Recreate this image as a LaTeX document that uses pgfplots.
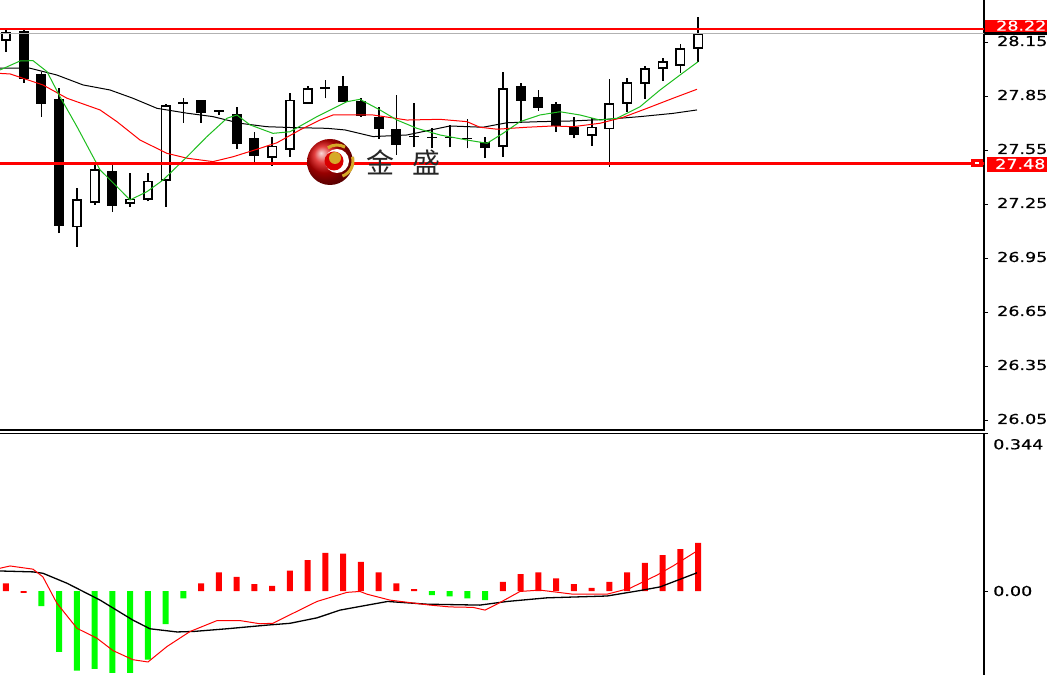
\documentclass[border=0pt]{standalone}
\usepackage{pgfplots}
\usepackage{pgfplotstable}
\pgfplotsset{compat=1.18}
\usepackage{fontspec}
\setmainfont{DejaVu Sans}
\newfontfamily\lblfont[FakeStretch=1.28,FakeBold=0.6]{DejaVu Sans}
\newfontfamily\cjk{Noto Sans CJK SC}
\newcommand\lbl{\lblfont\fontsize{13.7bp}{14bp}\selectfont}
\definecolor{magreen}{RGB}{30,190,30}
\definecolor{hgreen}{RGB}{0,255,0}
\definecolor{gold}{RGB}{214,170,40}
% candles: index, open, high, low, close
\pgfplotstableread{
i o h l c
0 28.167 28.222 28.102 28.204
1 28.213 28.222 27.930 27.954
2 27.972 27.990 27.740 27.818
3 27.833 27.898 27.094 27.139
4 27.130 27.343 27.018 27.278
5 27.265 27.472 27.250 27.444
6 27.435 27.472 27.213 27.250
7 27.260 27.426 27.240 27.280
8 27.282 27.426 27.270 27.380
9 27.389 27.810 27.240 27.800
10 27.815 27.845 27.707 27.820
11 27.830 27.832 27.707 27.765
12 27.772 27.775 27.750 27.772
13 27.750 27.796 27.560 27.593
14 27.615 27.657 27.491 27.528
15 27.518 27.630 27.467 27.574
16 27.561 27.870 27.518 27.830
17 27.818 27.910 27.818 27.893
18 27.898 27.945 27.843 27.900
19 27.907 27.967 27.820 27.824
20 27.824 27.843 27.740 27.750
21 27.732 27.796 27.617 27.676
22 27.667 27.861 27.528 27.589
23 27.630 27.815 27.570 27.630
24 27.626 27.676 27.565 27.626
25 27.626 27.694 27.570 27.626
26 27.620 27.728 27.565 27.620
27 27.596 27.630 27.510 27.570
28 27.578 27.990 27.518 27.893
29 27.907 27.930 27.713 27.833
30 27.848 27.889 27.774 27.796
31 27.806 27.824 27.657 27.694
32 27.681 27.737 27.620 27.644
33 27.639 27.732 27.578 27.681
34 27.676 27.948 27.463 27.811
35 27.817 27.957 27.768 27.928
36 27.928 28.022 27.839 28.006
37 28.010 28.065 27.939 28.046
38 28.028 28.143 27.985 28.117
39 28.121 28.296 28.046 28.200
}\candles
\begin{document}
\begin{tikzpicture}
\useasboundingbox (0bp,0bp) rectangle (1047bp,675bp);
\fill[white] (0bp,0bp) rectangle (1047bp,675bp);
% ---------------- price panel ----------------
\begin{axis}[
  at={(-3bp,245bp)}, anchor=south west,
  scale only axis, width=987bp, height=433bp,
  xmin=-0.507, xmax=55.1, ymin=26.0, ymax=28.4056,
  xtick=\empty,
  ytick={26.05,26.35,26.65,26.95,27.25,27.55,27.85,28.15},
  yticklabels={26.05,26.35,26.65,26.95,27.25,27.55,27.85,28.15},
  ytick pos=right, yticklabel pos=right,
  tick align=outside, major tick length=4bp,
  tick style={black, line width=1bp},
  yticklabel style={font=\lbl, anchor=west, inner sep=0pt, xshift=9bp, yshift=2bp},
  axis line style={black, line width=1.5bp},
]
% wicks
\addplot[draw=none, mark=none, error bars/.cd, y dir=plus, y explicit,
  error mark=none, error bar style={draw=black, line width=1.6bp}]
  table[x=i, y=l, y error plus expr={\thisrow{h}-\thisrow{l}}] {\candles};
% bodies (black, including outline of white bodies)
\addplot[draw=none, mark=none, error bars/.cd, y dir=plus, y explicit,
  error mark=none, error bar style={draw=black, line width=10bp}]
  table[x=i, y expr={min(\thisrow{o},\thisrow{c})-0.0045},
        y error plus expr={abs(\thisrow{c}-\thisrow{o})+0.009}] {\candles};
% white interior of rising bodies
\addplot[draw=none, mark=none, error bars/.cd, y dir=plus, y explicit,
  error mark=none, error bar style={draw=white, line width=6.8bp}]
  table[x=i, y expr={\thisrow{o}+0.0045},
        y error plus expr={max(\thisrow{c}-\thisrow{o}-0.009,0)}] {\candles};
% moving averages
\addplot[black, line width=1bp] coordinates {(-0.51,28.010) (1.35,28.010) (2.87,27.972) (4.34,27.917) (5.86,27.889) (7.15,27.843) (8.51,27.787) (10.20,27.760) (11.66,27.741) (13.18,27.704) (14.70,27.685) (16.17,27.680) (18.08,27.676) (19.10,27.667) (20.68,27.630) (22.59,27.639) (25.01,27.689) (26.87,27.682) (28.23,27.707) (30.08,27.713) (31.94,27.717) (33.86,27.726) (35.72,27.741) (37.58,27.759) (38.93,27.778)};
\addplot[red, line width=1bp] coordinates {(-0.51,27.982) (0.23,27.978) (2.08,27.917) (3.44,27.843) (5.30,27.778) (6.25,27.713) (7.55,27.611) (9.07,27.537) (10.20,27.510) (11.66,27.491) (12.79,27.518) (14.31,27.565) (15.27,27.596) (16.56,27.667) (17.69,27.722) (18.42,27.750) (20.68,27.750) (22.59,27.722) (24.45,27.726) (25.97,27.713) (26.70,27.682) (27.66,27.671) (29.35,27.682) (30.82,27.689) (31.94,27.685) (33.46,27.704) (34.76,27.737) (36.11,27.787) (37.58,27.843) (38.93,27.893)};
\addplot[magreen, line width=1bp] coordinates {(-0.51,28.000) (-0.34,28.000) (0.79,28.050) (1.52,28.052) (2.31,27.991) (3.04,27.852) (4.0,27.685) (5.30,27.445) (6.25,27.352) (6.99,27.278) (7.94,27.324) (8.85,27.389) (10.20,27.518) (11.32,27.630) (12.45,27.732) (13.01,27.750) (13.75,27.695) (15.04,27.648) (16.0,27.657) (17.52,27.741) (19.21,27.824) (19.94,27.837) (21.07,27.778) (22.03,27.722) (23.15,27.676) (24.45,27.639) (25.97,27.611) (27.10,27.593) (28.0,27.648) (28.96,27.713) (30.08,27.750) (31.21,27.768) (32.34,27.750) (33.46,27.722) (34.42,27.732) (35.72,27.796) (36.85,27.889) (37.97,27.972) (38.99,28.046)};
% horizontal lines
\addplot[black!30, line width=1bp] coordinates {(-1,28.204) (56,28.204)};
\addplot[red, line width=2.3bp] coordinates {(-1,28.226) (56,28.226)};
\addplot[red, line width=2.3bp] coordinates {(-1,27.4806) (56,27.4806)};
\end{axis}
% ---------------- MACD panel ----------------
\begin{axis}[
  at={(-3bp,-3bp)}, anchor=south west,
  scale only axis, width=987bp, height=244.7bp,
  xmin=-0.507, xmax=55.1, ymin=-0.1912, ymax=0.3466,
  xtick=\empty,
  ytick={0}, yticklabels={0.00},
  extra y ticks={0.3466}, extra y tick labels={0.344},
  extra y tick style={yticklabel style={yshift=-11bp}},
  ytick pos=right, yticklabel pos=right,
  tick align=outside, major tick length=4bp,
  tick style={black, line width=1bp},
  yticklabel style={font=\lbl, anchor=west, inner sep=0pt, xshift=5bp},
  axis line style={black, line width=1.5bp},
]
\addplot[ybar, bar width=6bp, bar shift=0pt, fill=red, draw=none] coordinates {(0,0.017) (1,-0.004) (11,0.017) (12,0.041) (13,0.031) (14,0.015) (15,0.011) (16,0.045) (17,0.068) (18,0.084) (19,0.082) (20,0.064) (21,0.041) (22,0.017) (23,0.004) (28,0.020) (29,0.037) (30,0.041) (31,0.028) (32,0.015) (33,0.007) (34,0.020) (35,0.041) (36,0.062) (37,0.079) (38,0.092) (39,0.106)};
\addplot[ybar, bar width=6bp, bar shift=0pt, fill=hgreen, draw=none] coordinates {(2,-0.033) (3,-0.134) (4,-0.175) (5,-0.171) (6,-0.180) (7,-0.180) (8,-0.151) (9,-0.073) (10,-0.016) (24,-0.009) (25,-0.012) (26,-0.016) (27,-0.020)};
\addplot[black, line width=1.3bp] coordinates {(-0.51,0.044) (-0.34,0.044) (1.52,0.042) (2.08,0.039) (3.44,0.017) (5.30,-0.020) (7.15,-0.064) (8.11,-0.083) (9.63,-0.090) (10.54,-0.089) (12.45,-0.083) (14.70,-0.075) (16.0,-0.071) (17.52,-0.059) (18.82,-0.042) (19.94,-0.034) (21.5,-0.023) (23.72,-0.029) (26.70,-0.031) (28.23,-0.023) (30.48,-0.015) (33.86,-0.011) (35.72,0.001) (36.85,0.009) (38.93,0.040)};
\addplot[red, line width=1bp] coordinates {(-0.51,0.050) (-0.34,0.050) (0.23,0.055) (1.52,0.048) (2.08,0.031) (2.87,-0.027) (4.0,-0.082) (5.13,-0.104) (6.03,-0.131) (7.15,-0.151) (8.0,-0.156) (9.07,-0.122) (10.37,-0.089) (11.89,-0.065) (13.18,-0.065) (14.31,-0.072) (15.04,-0.071) (16.17,-0.049) (17.52,-0.023) (19.21,-0.003) (19.94,-0.001) (20.34,-0.007) (21.63,-0.020) (23.89,-0.031) (25.01,-0.035) (26.31,-0.036) (26.99,-0.042) (27.66,-0.029) (28.96,-0.001) (30.08,0.002) (31.94,-0.007) (33.86,-0.007) (35.15,0.006) (36.68,0.035) (37.58,0.055) (38.93,0.088)};
\end{axis}
% ---------------- price labels on the right ----------------
\fill[black] (985bp,640bp) rectangle (1050bp,651bp);
\fill[red] (985bp,643.3bp) rectangle (1050bp,655bp);
\node[font=\lbl, text=white, anchor=west, inner sep=0pt] at (996bp,649.3bp) {28.22};
\fill[red] (987bp,503.3bp) rectangle (1050bp,518.3bp);
\node[font=\lbl, text=white, anchor=west, inner sep=0pt] at (995bp,511bp) {27.48};
\fill[red] (971bp,508.3bp) rectangle (983bp,515.7bp);
\fill[white] (975bp,510.8bp) rectangle (979bp,513.2bp);
% ---------------- watermark ----------------
\shade[ball color=red!85!black] (330bp,513bp) circle (23bp);
\fill[white] (337bp,514bp) circle (12bp);
\fill[red!85!black] (334bp,514bp) circle (9.5bp);
\fill[gold] (335bp,517bp) circle (6bp);
\draw[gold, line width=3bp] (337bp,514bp) ++(60:16bp) arc (60:125:16bp);
\draw[gold, line width=3bp] (337bp,514bp) ++(-70:16bp) arc (-70:15:16bp);
\node[font=\cjk\fontsize{28bp}{28bp}\selectfont, text=black!85] at (380bp,512.5bp) {金};
\node[font=\cjk\fontsize{28bp}{28bp}\selectfont, text=black!85] at (426bp,512.5bp) {盛};
\end{tikzpicture}
\end{document}
